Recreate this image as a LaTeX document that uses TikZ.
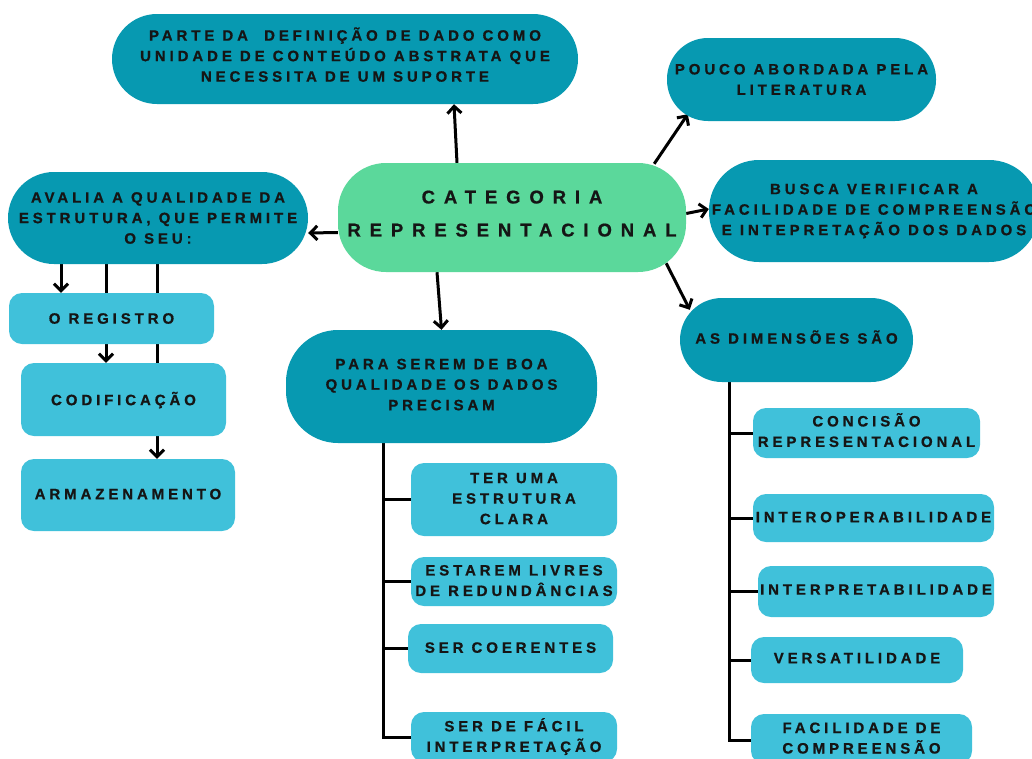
\documentclass[tikz,border=0pt]{standalone}
\usepackage{fontspec}
\setmainfont{Liberation Sans}
\newfontfamily\boxfont[LetterSpace=26,FakeBold=0.8]{Liberation Sans}
\newfontfamily\titlefont[LetterSpace=48,FakeBold=0.8]{Liberation Sans}
\usetikzlibrary{arrows.meta,backgrounds}

\definecolor{deepteal}{HTML}{0799B1}
\definecolor{skyteal}{HTML}{40C1DA}
\definecolor{mint}{HTML}{5BD89B}
\definecolor{ink}{HTML}{151515}

\tikzset{
  card/.style={draw=none, align=center, text=ink, inner sep=0pt,
    font=\boxfont\bfseries\fontsize{15}{20.5}\selectfont},
  darkcard/.style={card, fill=deepteal},
  lightcard/.style={card, fill=skyteal, rounded corners=13pt},
  lift/.style={text depth=#1},
  conn/.style={draw=black, line width=3pt},
  arr/.style={conn, -{Straight Barb[length=7pt,width=14pt]}}
}

\begin{document}
\begin{tikzpicture}[x=1pt,y=-1pt]
\useasboundingbox (0,0) rectangle (1032,758);
\clip (0,0) rectangle (1032,758);

% central concept
\node[card, fill=mint, rounded corners=48pt, minimum width=348pt, minimum height=109pt, lift=8pt,
      font=\titlefont\bfseries\fontsize{18.5}{33}\selectfont] (cat) at (512,217.5)
  {CATEGORIA\\REPRESENTACIONAL};

% first-level branches
\node[darkcard, rounded corners=45pt, minimum width=466pt, minimum height=90pt, lift=9pt] (top) at (345,59)
  {PARTE DA~ DEFINIÇÃO DE DADO COMO\\UNIDADE DE CONTEÚDO ABSTRATA QUE\\NECESSITA DE UM SUPORTE};
\node[darkcard, rounded corners=41pt, minimum width=269pt, minimum height=83pt] (pouco) at (801.5,79.5)
  {POUCO ABORDADA PELA\\LITERATURA};
\node[darkcard, rounded corners=50pt, minimum width=330pt, minimum height=102pt] (busca) at (874,211)
  {BUSCA VERIFICAR A\\FACILIDADE DE COMPREENSÃO\\E INTEPRETAÇÃO DOS DADOS};
\node[darkcard, rounded corners=46pt, minimum width=300pt, minimum height=92pt] (avalia) at (158,218)
  {AVALIA A QUALIDADE DA\\ESTRUTURA, QUE PERMITE\\O SEU:};
\node[darkcard, rounded corners=52pt, minimum width=311pt, minimum height=113pt, lift=4pt] (para) at (441.5,386.5)
  {PARA SEREM DE BOA\\QUALIDADE OS DADOS\\PRECISAM};
\node[darkcard, rounded corners=42pt, minimum width=233pt, minimum height=84pt, lift=6pt] (dim) at (796.5,340)
  {AS DIMENSÕES SÃO};

% what the structure allows
\node[lightcard, minimum width=205pt, minimum height=51pt] (reg) at (111.5,318.5) {O REGISTRO};
\node[lightcard, minimum width=205pt, minimum height=73pt, lift=2pt] (cod) at (123.5,399.5) {CODIFICAÇÃO};
\node[lightcard, minimum width=214pt, minimum height=72pt, lift=2pt] (arm) at (128,495) {ARMAZENAMENTO};

% what good data need
\node[lightcard, minimum width=206pt, minimum height=73pt, lift=2pt] (t1) at (514,499.5) {TER UMA\\ESTRUTURA\\CLARA};
\node[lightcard, minimum width=206pt, minimum height=49pt, lift=2pt] (t2) at (514,581.5) {ESTAREM LIVRES\\DE REDUNDÂNCIAS};
\node[lightcard, minimum width=205pt, minimum height=49pt, lift=2pt] (t3) at (510.5,648.5) {SER COERENTES};
\node[lightcard, minimum width=206pt, minimum height=50pt, lift=4pt] (t4) at (514,737) {SER DE FÁCIL\\INTERPRETAÇÃO};

% the dimensions
\node[lightcard, minimum width=227pt, minimum height=50pt, lift=6pt] (d1) at (866.5,433) {CONCISÃO\\REPRESENTACIONAL};
\node[lightcard, minimum width=241pt, minimum height=48pt, lift=2pt] (d2) at (873.5,518) {INTEROPERABILIDADE};
\node[lightcard, minimum width=236pt, minimum height=51pt, lift=4pt] (d3) at (876,591.5) {INTERPRETABILIDADE};
\node[lightcard, minimum width=212pt, minimum height=46pt, lift=4pt] (d4) at (857,660) {VERSATILIDADE};
\node[lightcard, minimum width=221pt, minimum height=50pt, lift=2pt] (d5) at (861.5,739) {FACILIDADE DE\\COMPREENSÃO};

\begin{scope}[on background layer]
  \fill[white] (0,0) rectangle (1032,758);

  % arrows out of the central concept
  \draw[arr] ([xshift=-55pt]cat.north) -- ([xshift=109pt]top.south);
  \draw[arr] ([xshift=-32pt,yshift=-1pt]cat.north east) -- ([xshift=21pt,yshift=7pt]pouco.south west);
  \draw[arr] ([yshift=4pt]cat.east) -- ([yshift=2pt]busca.west);
  \draw[arr] ([xshift=-20pt,yshift=9pt]cat.south east) -- ([xshift=10pt,yshift=-12pt]dim.north west);
  \draw[arr] ([xshift=-75pt]cat.south) -- (para.north);
  \draw[arr] ([yshift=-15pt]cat.west) -- ([yshift=-15pt]avalia.east);

  % drops from the structure box
  \draw[arr] ([xshift=-97pt]avalia.south) -- ([xshift=-97pt]avalia.south |- reg.north);
  \draw[arr] ([xshift=-52pt]avalia.south) -- ([xshift=-52pt]avalia.south |- cod.north);
  \draw[arr] ([xshift=-1pt]avalia.south) -- ([xshift=-1pt]avalia.south |- arm.north);

  % trunk under the quality box
  \draw[conn] ([xshift=-58.5pt,yshift=6pt]para.south) |- (t4.west);
  \draw[conn] ([xshift=-58.5pt]para.south |- t1.west) -- (t1.west);
  \draw[conn] ([xshift=-58.5pt]para.south |- t2.west) -- (t2.west);
  \draw[conn] ([xshift=-58.5pt]para.south |- t3.west) -- (t3.west);

  % trunk under the dimensions box
  \draw[conn] ([xshift=-67.5pt,yshift=2pt]dim.south) |- ([yshift=-1pt]d5.west);
  \draw[conn] ([xshift=-67.5pt]dim.south |- d1.west) -- (d1.west);
  \draw[conn] ([xshift=-67.5pt]dim.south |- d2.west) -- (d2.west);
  \draw[conn] ([xshift=-67.5pt]dim.south |- d3.west) -- (d3.west);
  \draw[conn] ([xshift=-67.5pt]dim.south |- d4.west) -- (d4.west);
\end{scope}
\end{tikzpicture}
\end{document}
